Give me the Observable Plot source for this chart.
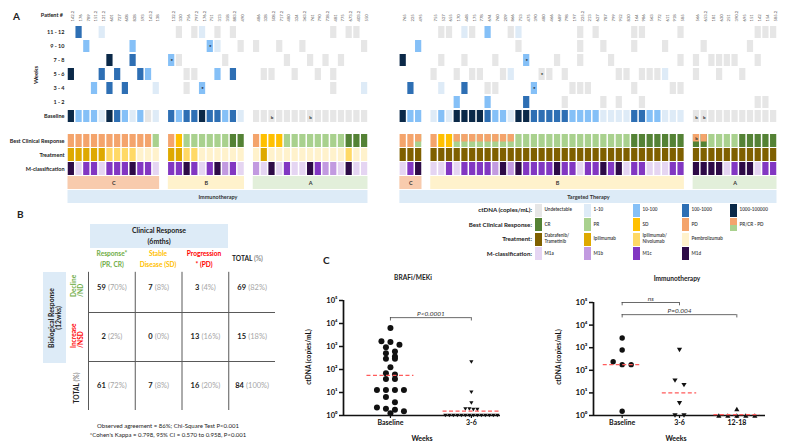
<!DOCTYPE html>
<html><head><meta charset="utf-8">
<script src="https://cdn.jsdelivr.net/npm/d3@7"></script>
<script src="https://cdn.jsdelivr.net/npm/@observablehq/plot@0.6"></script>
<style>
body{margin:0;background:#fff;}
#fig{position:relative;width:785px;height:448px;overflow:hidden;background:#fff;font-family:Lato,"Open Sans","DejaVu Sans",sans-serif;}
.abs{position:absolute;white-space:nowrap;}
svg{overflow:visible;}
</style></head><body><div id="fig"></div>
<script>
// ---------------- DATA ----------------
const weekRows = ["11 - 12","9 - 10","7 - 8","5 - 6","3 - 4","1 - 2","Baseline"];
const annoRows = ["Best Clinical Response","Treatment","M-classification"];
const groupNames = ["C","B","A"];
const therapies = ["Immunotherapy","Targeted Therapy"];

const patients_immuno = [
 ["142.2","176","789","151.2","121.2","601","727","608","828","593","143.2","138"],
 ["132.2","330","756","797.2","176.2","751","313","358","883.2","490"],
 ["486","328","508.2","717.2","480","324","363.2","761","790","738.2","481","775","673.2","403.2","550"]
];
const patients_targeted = [
 ["765","225","495"],
 ["755","527","655","170","448","175","778","694","760","209","866","753","475","390","480","466","689","798","197","225.2","213","627","787","799","952","830","164","986","563","772","611","918","585"],
 ["566","653.2","181","630","251","390.2","695","151","142","154","585.2"]
];
// ctDNA level codes: . none, u undetectable, 1 (1-10), 2 (10-100), 3 (100-1000), 4 (1000-100000), S = 2 with *, v = u with *, B = u with b
const ctDNA_immuno = [
 ".3..1.......|.u.u1.u.u.|..........u.uu.",
 "..2.....2...|.....S1..u|u..u..u.......u",
 ".....4..3...|Su.....u..|....u..u.u.u...",
 "4...3.3..32.|..uu..2.3.|.uu..u..u.u....",
 "...2.3.3...1|..u.S.....|..........u...1",
 "............|..........|...............",
 "4222143212u1|3233433231|uuBuuuuBuuuuuuu"
];
const ctDNA_targeted = [
 "...|.uu.1u.2..u1.......u.u....uu....u|........uuu",
 "..2|...........u.......u..u...u...u..|.u.....u...",
 "4..|.u..u...u...S...u..u...u........u|u.uuuu..u..",
 "...|u..u.uu..u1...vu.u......uu.uuu1..|u..u..u....",
 ".3.|.1..3..uu....S....uuu.....u....uu|...........",
 "...|...2...2....3....u....u.u..u.....|........uu.",
 "422|121444432214433333222211113322111|BBuuuuuuuuu"
];
// best clinical response: P PD, S SD, R PR, C CR, X PR/CR->PD, Y PD/CR, Z PD/CR with b
const bcr_immuno   = "PPPPPPPPPPPR|PSRRRRRRCC|PSSSRRRRRRRRCCC";
const bcr_targeted = "PPX|PSSXXXXXXXXRRRRRRRRRRRRRRRCCCCCCC|ZYRRRRCCCCC";
// treatment: I ipilimumab, N ipi/nivo, P pembrolizumab, D dabrafenib/trametinib
const trt_immuno   = "IIIIINNNNPPP|IINNPPPPPP|PIPPPPPPPPPPNPP";
const trt_targeted = "DDD|DDDDDDDDDDDDDDDDDDDDDDDDDDDDDDDDD|DDDDDDDDDDD";
// M-classification: a M1a, b M1b, c M1c, d M1d
const mcl_immuno   = "daccacccdcca|ccdcacdbca|badacaadcbbadaa";
const mcl_targeted = "acd|aacaccccbdbdccccdccaccdcdaccaaacc|ddddacddacc";

// Panel B
const bCounts   = [[59,7,3,69],[2,0,13,15],[61,7,16,84]];
const bPercents = [[70,8,4,82],[2,0,16,18],[72,8,20,100]];

// Panel C
const braf_weeks = ["Baseline","3-6"];
const braf_baseline = [6300,1700,1550,1180,930,600,510,370,290,290,126,69,60,39,39,13,13,13,13,6.3,3.8,2.2,1.95,1.76,1.54,1.26];
const braf_wk3_6 = [210,10.3,3.5,1.9,1.9,1.8,1.8,1,1,1,1,1,1,1,1,1,1,1,1,1,1];
const braf_medians = [55,1.55];
const braf_tests = [{from:0,to:1,y:18000,label:"P<0.0001"}];
const immuno_weeks = ["Baseline","3-6","12-18"];
const immuno_baseline = [2700,790,240,178,178,1.55];
const immuno_wk3_6 = [790,35,22,3.5,1,1];
const immuno_wk12_18 = [1.95,1,1,1,1,1];
const immuno_medians = [178,10,1.1];
const immuno_tests = [{from:0,to:1,y:100000,label:"ns"},{from:0,to:2,y:29000,label:"P=0.004"}];

// ---------------- STYLE ----------------
const FONT = "Lato, 'Open Sans', 'DejaVu Sans', sans-serif";
const ctColor = {u:"#e6e6e6","1":"#deebf7","2":"#85c0f7","3":"#2e6fb4","4":"#0b2948"};
const bcrColor = {C:"#548235",R:"#a9d18e",S:"#ffc000",P:"#f4a46c"};
const trtColor = {D:"#7f6000",I:"#dea900",N:"#ffd966",P:"#fff2cc"};
const mclColor = {a:"#e5d5f2",b:"#c29ae0",c:"#8237c2",d:"#2e0b47"};
const groupColor = {C:"#f8cbad",B:"#fff2cc",A:"#e2efda"};

const fig = document.getElementById("fig");
function addPlot(svg, x, y){ svg.style.position="absolute"; svg.style.left=x+"px"; svg.style.top=y+"px"; svg.style.maxWidth="none"; fig.appendChild(svg); }
function label(txt, x, y, o={}) {
  const d = document.createElement("div");
  d.className = "abs"; d.innerHTML = txt;
  d.style.fontSize = (o.size||6)+"px"; d.style.fontWeight = o.weight||"bold";
  d.style.color = o.color||"#222"; d.style.lineHeight = o.lh||"1.1";
  d.style.left = x+"px"; d.style.top = y+"px";
  if (o.align) d.style.textAlign = o.align;
  if (o.italic) d.style.fontStyle = "italic";
  const ax = o.anchor==="end" ? "-100%" : o.anchor==="middle" ? "-50%" : "0";
  if (o.rotate === "start") { d.style.transformOrigin="0 0"; d.style.transform="rotate(-90deg) translateY(-50%)"; }
  else if (o.rotate) d.style.transform = "translate(-50%,-50%) rotate(-90deg)";
  else d.style.transform = `translate(${ax},-50%)`;
  fig.appendChild(d); return d;
}
function box(x,y,w,h,bg){ const d=document.createElement("div"); d.className="abs"; Object.assign(d.style,{left:x+"px",top:y+"px",width:w+"px",height:h+"px",background:bg}); fig.appendChild(d); return d; }

// ---------------- PANEL A data build ----------------
const GAP_GROUP = 1, GAP_SIDE = 4;
const sides = [
  {therapy:therapies[0], ids:patients_immuno, ct:ctDNA_immuno, bcr:bcr_immuno, trt:trt_immuno, mcl:mcl_immuno},
  {therapy:therapies[1], ids:patients_targeted, ct:ctDNA_targeted, bcr:bcr_targeted, trt:trt_targeted, mcl:mcl_targeted}
];
const ctCells=[], starCells=[], bCellsCt=[], annoCells=[], splitTops=[], bCellsAnno=[], idLabels=[], groupBands=[], therapyBands=[];
let col = 0;
sides.forEach((s, si) => {
  if (si > 0) col += GAP_SIDE - GAP_GROUP;
  const sideStart = col;
  s.ids.forEach((ids, gi) => {
    const gStart = col;
    ids.forEach((id, k) => {
      const c = gStart + k;
      idLabels.push({col:c, id});
      weekRows.forEach((row, ri) => {
        const code = (s.ct[ri].split("|")[gi] || "")[k] || ".";
        if (code === ".") return;
        const lvl = {S:"2", v:"u", B:"u"}[code] || code;
        ctCells.push({col:c, row, fill:ctColor[lvl]});
        if (code === "S" || code === "v") starCells.push({col:c, row});
        if (code === "B") bCellsCt.push({col:c, row});
      });
      const b = (s.bcr.split("|")[gi] || "")[k] || "R";
      if (b === "X") { annoCells.push({col:c,row:annoRows[0],fill:bcrColor.R}); splitTops.push({col:c,row:annoRows[0],fill:bcrColor.P}); }
      else if (b === "Y" || b === "Z") { annoCells.push({col:c,row:annoRows[0],fill:bcrColor.C}); splitTops.push({col:c,row:annoRows[0],fill:bcrColor.P}); if (b==="Z") bCellsAnno.push({col:c,row:annoRows[0]}); }
      else annoCells.push({col:c,row:annoRows[0],fill:bcrColor[b]});
      const t = (s.trt.split("|")[gi] || "")[k] || "P";
      annoCells.push({col:c,row:annoRows[1],fill:trtColor[t]});
      const m = (s.mcl.split("|")[gi] || "")[k] || "a";
      annoCells.push({col:c,row:annoRows[2],fill:mclColor[m]});
    });
    groupBands.push({x1:gStart, x2:gStart+ids.length, name:groupNames[gi], row:"grp", fill:groupColor[groupNames[gi]]});
    col = gStart + ids.length + GAP_GROUP;
  });
  therapyBands.push({x1:sideStart, x2:col-GAP_GROUP, name:s.therapy, row:"ther"});
});
const totalCols = col - GAP_GROUP;

// Heatmap (ctDNA over weeks)
const plotA1 = Plot.plot({
  width:785, height:125, marginLeft:67, marginRight:8, marginTop:24, marginBottom:1,
  x:{domain:[0,totalCols], axis:null},
  y:{type:"band", domain:weekRows, padding:0.14, axis:null},
  color:{type:"identity"},
  style:{fontFamily:FONT, fontWeight:"bold", background:"transparent", color:"#222"},
  marks:[
    Plot.barX(ctCells, {x1:"col", x2:d=>d.col+1, y:"row", fill:"fill", insetLeft:0.75, insetRight:0.75}),
    Plot.text(starCells, {x:d=>d.col+0.5, y:"row", text:()=>"*", fontSize:6, fill:"#000", dy:1}),
    Plot.text(bCellsCt, {x:d=>d.col+0.5, y:"row", text:()=>"b", fontSize:4.5, fill:"#333", dy:1}),
    Plot.text(idLabels, {x:d=>d.col+0.5, frameAnchor:"top", text:"id", rotate:-90, textAnchor:"start", dy:-3, fontSize:4.2, fontWeight:"normal", fill:"#555"}),
    Plot.axisY({tickSize:0, tickPadding:3, fontSize:5.5, label:null})
  ]
});
addPlot(plotA1, 0, 0);

const annoDomain = [...annoRows, "grp", "ther"];
const plotA2 = Plot.plot({
  width:785, height:78, marginLeft:67, marginRight:8, marginTop:6, marginBottom:0,
  x:{domain:[0,totalCols], axis:null},
  y:{type:"band", domain:annoDomain, paddingInner:0.08, paddingOuter:0.04, axis:null},
  color:{type:"identity"},
  style:{fontFamily:FONT, fontWeight:"bold", background:"transparent", color:"#222"},
  marks:[
    Plot.barX(annoCells, {x1:"col", x2:d=>d.col+1, y:"row", fill:"fill", insetLeft:0.75, insetRight:0.75}),
    Plot.barX(splitTops, {x1:"col", x2:d=>d.col+1, y:"row", fill:"fill", insetLeft:0.75, insetRight:0.75, insetBottom:5.5}),
    Plot.text(bCellsAnno, {x:d=>d.col+0.5, y:"row", text:()=>"b", fontSize:4.5, fill:"#333", dy:-2}),
    Plot.barX(groupBands, {x1:"x1", x2:"x2", y:"row", fill:"fill", insetLeft:0.5, insetRight:0.5}),
    Plot.text(groupBands, {x:d=>(d.x1+d.x2)/2, y:"row", text:"name", fontSize:5.5, fill:"#333"}),
    Plot.barX(therapyBands, {x1:"x1", x2:"x2", y:"row", fill:"#ddebf7", insetLeft:0.5, insetRight:0.5}),
    Plot.text(therapyBands, {x:d=>(d.x1+d.x2)/2, y:"row", text:"name", fontSize:5.5, fill:"#333"}),
    Plot.axisY({ticks:annoRows, tickSize:0, tickPadding:3, fontSize:5.5, label:null})
  ]
});
addPlot(plotA2, 0, 126);

label("A", 13, 16, {size:10});
label("Patient #", 63, 15, {size:5.5, anchor:"end"});
label("Weeks", 36, 75, {size:6, rotate:true});

// Legend
const legendRows = [
  {title:"ctDNA (copies/mL):", items:[[ctColor.u,"Undetectable"],[ctColor["1"],"1-10"],[ctColor["2"],"10-100"],[ctColor["3"],"100-1000"],[ctColor["4"],"1000-100000"]]},
  {title:"Best Clinical Response:", items:[[bcrColor.C,"CR"],[bcrColor.R,"PR"],[bcrColor.S,"SD"],[bcrColor.P,"PD"],[`linear-gradient(${bcrColor.P} 50%, ${bcrColor.R} 50%)`,"PR/CR - PD"]]},
  {title:"Treatment:", items:[[trtColor.D,"Dabrafenib/<br>Trametinib"],[trtColor.I,"Ipilimumab"],[trtColor.N,"Ipilimumab/<br>Nivolumab"],[trtColor.P,"Pembrolizumab"]]},
  {title:"M-classification:", items:[[mclColor.a,"M1a"],[mclColor.b,"M1b"],[mclColor.c,"M1c"],[mclColor.d,"M1d"]]}
];
const legY = [210, 224.5, 239, 253.5], legX = [535, 584, 633, 682, 730];
legendRows.forEach((r, i) => {
  label(r.title, 532, legY[i], {size:6.2, anchor:"end"});
  r.items.forEach((it, j) => {
    box(legX[j], legY[i]-6.5, 6.5, 13, it[0]);
    label(it[1], legX[j]+9.5, legY[i], {size:4.6, weight:"600", color:"#333", lh:"1.25"});
  });
});

// ---------------- PANEL B ----------------
label("B", 17, 214, {size:10});
box(90, 224, 138, 24, "#ddebf7");
label("Clinical Response", 159, 231, {size:7, anchor:"middle"});
label("(6mths)", 159, 242, {size:7, anchor:"middle"});
const colHead = [["Response*","(PR, CR)","#70ad47",112],["Stable","Disease (SD)","#ffc000",158],["Progression","* (PD)","#ff0000",204]];
colHead.forEach(h => { label(h[0],h[3],254,{size:6.6,color:h[2],anchor:"middle"}); label(h[1],h[3],265,{size:6.6,color:h[2],anchor:"middle"}); });
label('TOTAL <span style="color:#8c8c8c">(%)</span>', 232, 259, {size:6.6});
box(43, 272, 23, 91, "#ddebf7");
label("Biological Response<br>(12wks)", 54.5, 318, {size:6.8, rotate:true, align:"center"});
label("Decline<br>/ND", 76.5, 297, {size:6.6, rotate:"start", color:"#70ad47", lh:"1.05"});
label("Increase<br>/NSD", 76.5, 348, {size:6.6, rotate:"start", color:"#ff0000", lh:"1.05"});
label('TOTAL <span style="color:#8c8c8c">(%)</span>', 77, 388, {size:6.6, rotate:true});
label("Observed agreement = 86%; Chi-Square Test P&lt;0.001", 168, 426, {size:6, weight:"normal", anchor:"middle"});
label("*Cohen's Kappa = 0.798, 95% CI = 0.570 to 0.958, P&lt;0.001", 168, 435, {size:6, weight:"normal", anchor:"middle"});

const ctx = document.createElement("canvas").getContext("2d");
function tw(t, font){ ctx.font = font; return ctx.measureText(t).width; }
const bW = 290, bML = 88, bMR = 15, ppuB = (bW - bML - bMR)/4;
const bCells = [];
bCounts.forEach((row, r) => row.forEach((n, c) => {
  const ct = String(n), pt = `(${bPercents[r][c]}%)`;
  const wc = tw(ct, `bold 7.5px ${FONT}`), wp = tw(pt, `7.5px ${FONT}`), gap = 2.2;
  const W = wc + gap + wp;
  bCells.push({r, c, ct, pt, xc: c + 0.5 + (-W/2 + wc)/ppuB, xp: c + 0.5 + (-W/2 + wc + gap)/ppuB});
}));
const plotB = Plot.plot({
  width:bW, height:220, marginLeft:bML, marginRight:bMR, marginTop:63, marginBottom:10,
  x:{domain:[0,4], axis:null}, y:{domain:[0,3], reverse:true, axis:null},
  style:{fontFamily:FONT, background:"transparent"},
  marks:[
    Plot.ruleX([0,1,2,3], {y1:0.18, y2:3, stroke:"#595959", strokeWidth:1}),
    Plot.ruleY([1,2], {x1:0, x2:4, stroke:"#595959", strokeWidth:1}),
    Plot.text(bCells, {x:"xc", y:d=>d.r+0.5, text:"ct", textAnchor:"end", fontWeight:"bold", fontSize:7.5, fill:"#222"}),
    Plot.text(bCells, {x:"xp", y:d=>d.r+0.5, text:"pt", textAnchor:"start", fontSize:7.5, fill:"#a6a6a6"})
  ]
});
addPlot(plotB, 0, 200);

// ---------------- PANEL C ----------------
label("C", 323, 260, {size:10});
label("BRAFi/MEKi", 413, 278, {size:6.6, anchor:"middle"});
label("Immunotherapy", 677, 279, {size:6.6, anchor:"middle"});
label("ctDNA (copies/mL)", 309, 357, {size:6.6, rotate:true, color:"#111"});
label("ctDNA (copies/mL)", 559, 357, {size:6.6, rotate:true, color:"#111"});
label("Weeks", 422, 439, {size:7, anchor:"middle", color:"#111"});
label("Weeks", 676, 439, {size:7, anchor:"middle", color:"#111"});

const sup = ["⁰","¹","²","³","⁴","⁵"];
const triDown = {draw(c, size){ const w = Math.sqrt(size/Math.PI), h = w*1.7; c.moveTo(-w,-h/2); c.lineTo(w,-h/2); c.lineTo(0,h/2); c.closePath(); }};
const triUp = {draw(c, size){ const w = Math.sqrt(size/Math.PI), h = w*1.7; c.moveTo(-w,h/2); c.lineTo(w,h/2); c.lineTo(0,-h/2); c.closePath(); }};
function swarm(values, pxPerDecade, spacing){
  const sorted = values.slice().sort((a,b)=>b-a);
  const rows = []; let cur = null;
  for (const v of sorted) {
    const py = Math.log10(v)*pxPerDecade;
    if (cur && Math.abs(cur.py0 - py) < spacing*0.6) cur.pts.push(v);
    else { cur = {py0:py, pts:[v]}; rows.push(cur); }
  }
  const out = [];
  rows.forEach(r => r.pts.forEach((v,k) => out.push({value:v, off:(k-(r.pts.length-1)/2)*spacing})));
  return out;
}
function swarmPlot(o){
  const [x0, x1] = o.xdom;
  const ppu = (o.width - o.mL - o.mR)/(x1 - x0);
  const ppd = (o.height - o.mT - o.mB)/5;
  const marks = [];
  o.groups.forEach(g => {
    const pts = swarm(g.values, ppd, g.spacing).map(p => ({x: g.cat + p.off/ppu, value:p.value}));
    marks.push(Plot.dot(pts, {x:"x", y:"value", r:g.r, fill:"#111", stroke:"none", symbol:g.symbol}));
  });
  const med = o.medians.map((v,i)=>({cat:i, value:v, half:o.medHalf[i]}));
  const endTicks = o.tests.flatMap(t => [{x:t.from,y:t.y},{x:t.to,y:t.y}]);
  return Plot.plot({
    width:o.width, height:o.height, marginLeft:o.mL, marginRight:o.mR, marginTop:o.mT, marginBottom:o.mB,
    x:{domain:o.xdom, axis:null},
    y:{type:"log", domain:[1,1e5], axis:null},
    style:{fontFamily:FONT, fontWeight:"bold", background:"transparent", color:"#111"},
    marks:[
      Plot.axisY({ticks:[1,10,100,1e3,1e4,1e5], tickFormat:d=>"10"+sup[Math.round(Math.log10(d))], tickSize:4, tickPadding:2, strokeWidth:1.5, fontSize:o.fs, label:null}),
      Plot.axisX({ticks:o.cats.map((_,i)=>i), tickFormat:i=>o.cats[i], tickSize:3, tickPadding:2, strokeWidth:1.2, fontSize:7, label:null}),
      Plot.ruleX([x0], {y1:1, y2:1e5, stroke:"#111", strokeWidth:1.7}),
      Plot.ruleY([1], {x1:x0, x2:x1, stroke:"#111", strokeWidth:1.5}),
      ...marks,
      Plot.ruleY(med, {x1:d=>d.cat-d.half, x2:d=>d.cat+d.half, y:"value", stroke:"#ff5b5b", strokeWidth:1.3, strokeDasharray:"4,2.5"}),
      Plot.ruleY(o.tests, {x1:"from", x2:"to", y:"y", stroke:"#444", strokeWidth:0.8}),
      Plot.ruleX(endTicks, {x:"x", y1:"y", y2:d=>d.y/1.4, stroke:"#444", strokeWidth:0.8}),
      Plot.text(o.tests, {x:d=>(d.from+d.to)/2, y:"y", text:"label", dy:-2, lineAnchor:"bottom", fontStyle:"italic", fontWeight:"normal", fontSize:6.5, fill:"#333"})
    ]
  });
}
const plotC1 = swarmPlot({width:215, height:160, mL:53, mR:5, mT:15, mB:30, xdom:[-0.58,1.36], cats:braf_weeks, fs:7.5,
  groups:[{cat:0, values:braf_baseline, r:3, spacing:9, symbol:"circle"},{cat:1, values:braf_wk3_6, r:2.1, spacing:4, symbol:triDown}],
  medians:braf_medians, medHalf:[0.29,0.35], tests:braf_tests});
addPlot(plotC1, 290, 285);
const plotC2 = swarmPlot({width:235, height:160, mL:48, mR:15, mT:17, mB:30, xdom:[-0.5,2.5], cats:immuno_weeks, fs:8,
  groups:[{cat:0, values:immuno_baseline, r:2.7, spacing:9, symbol:"circle"},{cat:1, values:immuno_wk3_6, r:2.6, spacing:9, symbol:triDown},{cat:2, values:immuno_wk12_18, r:2.6, spacing:9, symbol:triUp}],
  medians:immuno_medians, medHalf:[0.33,0.3,0.4], tests:immuno_tests});
addPlot(plotC2, 545, 285);
</script></body></html>
